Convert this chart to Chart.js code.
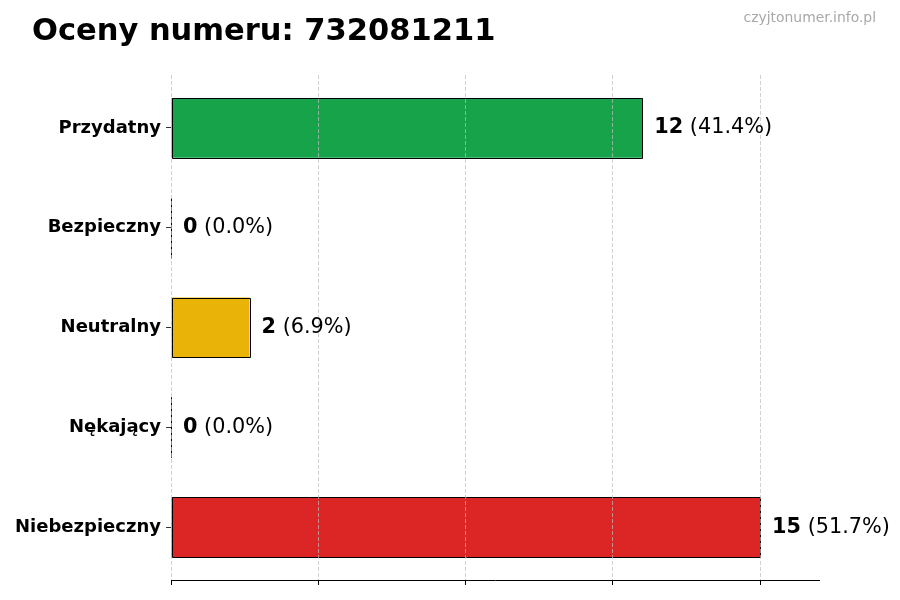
<!DOCTYPE html>
<html>
<head>
<meta charset="utf-8">
<script src="https://cdn.jsdelivr.net/npm/chart.js@4"></script>
<style>
html,body{margin:0;padding:0;background:#fff;}
#wrap{width:900px;height:600px;}
</style>
</head>
<body>
<div id="wrap"><canvas id="c" width="900" height="600"></canvas></div>
<script>
const categories = ["Przydatny", "Bezpieczny", "Neutralny", "Nękający", "Niebezpieczny"];
const values = [12, 0, 2, 0, 15];
const barColors = ["#16a34a", "#3b82f6", "#eab308", "#f97316", "#dc2626"];
const xTicks = [0, 3.75, 7.5, 11.25, 15];
const xMax = 16.5;
const yMin = -0.53;
const yMax = 4.53;
const titleText = "Oceny numeru: 732081211";
const watermark = "czyjtonumer.info.pl";
const FONT = "'DejaVu Sans', sans-serif";
const total = values.reduce((a, b) => a + b, 0);
const points = values.map((v, i) => ({ x: v, y: i }));

const decor = {
  id: 'decor',
  afterDatasetsDraw(chart) {
    const ctx = chart.ctx;
    const meta = chart.getDatasetMeta(0);
    ctx.save();
    ctx.strokeStyle = '#000';
    ctx.lineWidth = 1;
    meta.data.forEach((bar) => {
      const p = bar.getProps(['x', 'y', 'base', 'height'], true);
      const x0 = Math.round(Math.min(p.base, p.x)) + 0.5;
      const x1 = Math.round(Math.max(p.base, p.x)) + 0.5;
      const y0 = Math.round(p.y - p.height / 2) + 0.5;
      const y1 = Math.round(p.y + p.height / 2) + 0.5;
      ctx.beginPath();
      ctx.rect(x0, y0, x1 - x0, y1 - y0);
      ctx.stroke();
    });
    ctx.restore();
  },
  afterDraw(chart) {
    const ctx = chart.ctx;
    const meta = chart.getDatasetMeta(0);
    ctx.save();
    ctx.textBaseline = 'middle';
    meta.data.forEach((bar, i) => {
      const p = bar.getProps(['x', 'y'], true);
      const v = values[i];
      const pct = ' (' + (total ? (v / total * 100) : 0).toFixed(1) + '%)';
      let x = p.x + 12;
      ctx.font = 'bold 20.8px ' + FONT;
      ctx.fillStyle = '#000';
      ctx.textAlign = 'left';
      ctx.fillText(String(v), x, p.y);
      x += ctx.measureText(String(v)).width;
      ctx.font = '20.8px ' + FONT;
      ctx.fillText(pct, x, p.y);
    });
    ctx.font = 'bold 30.5px ' + FONT;
    ctx.textBaseline = 'alphabetic';
    ctx.fillStyle = '#000';
    ctx.fillText(titleText, 32, 39.5);
    ctx.font = '13.9px ' + FONT;
    ctx.fillStyle = '#a8a8a8';
    ctx.textAlign = 'right';
    ctx.fillText(watermark, 876, 22);
    ctx.restore();
  }
};

new Chart(document.getElementById('c'), {
  type: 'bar',
  data: {
    datasets: [{
      data: points,
      backgroundColor: barColors,
      borderWidth: 0,
      barPercentage: 0.6,
      categoryPercentage: 1.0
    }]
  },
  options: {
    indexAxis: 'y',
    responsive: false,
    animation: false,
    devicePixelRatio: 1,
    layout: { padding: { top: 75, right: 81, left: 0, bottom: 0 } },
    plugins: { legend: { display: false }, tooltip: { enabled: false }, title: { display: false } },
    scales: {
      x: {
        type: 'linear',
        min: 0,
        max: xMax,
        afterBuildTicks(scale) { scale.ticks = xTicks.map(v => ({ value: v })); },
        afterFit(scale) { scale.height = 20; },
        ticks: { display: false },
        grid: {
          display: true,
          drawOnChartArea: true,
          drawTicks: true,
          tickLength: 5,
          color: 'rgba(190,190,190,0.7)',
          tickColor: '#000',
          lineWidth: 1,
          z: 1
        },
        border: { display: true, color: '#000', width: 1, dash: [4, 2], z: 2 }
      },
      y: {
        type: 'linear',
        reverse: true,
        offset: false,
        min: yMin,
        max: yMax,
        afterBuildTicks(scale) { scale.ticks = categories.map((c, i) => ({ value: i })); },
        afterFit(scale) { scale.width = 171; },
        ticks: {
          color: '#000',
          padding: 5,
          font: { family: FONT, size: 18, weight: 'bold' },
          callback: (v) => categories[Math.round(v)]
        },
        grid: {
          display: true,
          offset: false,
          drawOnChartArea: false,
          drawTicks: true,
          tickLength: 5,
          tickColor: '#333'
        },
        border: { display: false }
      }
    }
  },
  plugins: [decor]
});
</script>
</body>
</html>
